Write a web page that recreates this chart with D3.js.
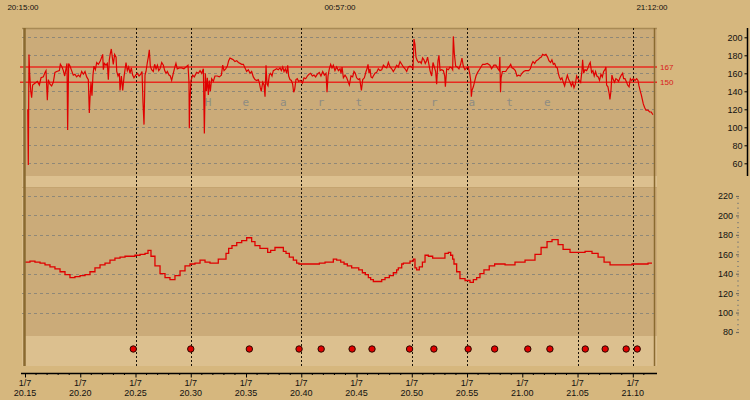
<!DOCTYPE html>
<html><head><meta charset="utf-8">
<script src="https://cdn.jsdelivr.net/npm/d3@7"></script>
<style>body{margin:0;background:#d6b77e;} svg{display:block;font-family:"Liberation Sans",Arial,sans-serif;}</style>
</head><body><svg id="c" width="750" height="400"></svg>
<script>
// minutes after 20:15 , heart rate (bpm)
const heartRate = [
[0.25,120],[0.30,58],[0.36,181],[0.42,160],[0.52,140],[0.60,133],[0.69,147],[0.90,149],[1.12,151],[1.30,147],[1.45,155],[1.66,156],[1.81,161],[1.90,163],[2.02,130],[2.11,153],[2.26,148],[2.41,146],[2.56,150],[2.71,161],[2.87,162],[3.11,163],[3.20,170],[3.35,167],[3.47,163],[3.59,157],[3.71,165],[3.80,171],[3.86,97],[3.95,171],[4.07,168],[4.22,163],[4.37,158],[4.52,159],[4.67,156],[4.83,158],[4.98,156],[5.13,162],[5.28,159],[5.43,162],[5.58,156],[5.73,153],[5.82,116],[5.88,132],[5.97,150],[6.06,135],[6.15,158],[6.24,168],[6.37,164],[6.49,172],[6.64,170],[6.79,173],[6.94,178],[7.03,181],[7.09,164],[7.18,171],[7.33,169],[7.45,171],[7.54,153],[7.63,175],[7.72,182],[7.81,187],[7.90,178],[7.99,170],[8.11,181],[8.24,178],[8.30,162],[8.42,157],[8.54,160],[8.60,141],[8.72,157],[8.84,141],[8.96,156],[9.14,172],[9.26,163],[9.38,167],[9.50,160],[9.62,166],[9.74,158],[9.86,155],[10.02,158],[10.17,160],[10.32,157],[10.47,159],[10.59,162],[10.68,127],[10.77,103],[10.86,158],[10.95,162],[11.07,172],[11.16,178],[11.25,186],[11.34,168],[11.46,164],[11.61,162],[11.73,170],[11.86,165],[11.98,169],[12.10,163],[12.22,165],[12.37,172],[12.52,169],[12.64,163],[12.76,160],[12.88,162],[13.03,158],[13.15,157],[13.27,152],[13.42,160],[13.54,166],[13.66,171],[13.78,165],[13.96,166],[14.17,166],[14.38,165],[14.57,167],[14.75,169],[14.84,150],[14.87,99],[14.92,128],[15.02,152],[15.17,158],[15.32,156],[15.53,161],[15.69,160],[15.84,163],[15.99,160],[16.14,165],[16.23,93],[16.32,160],[16.41,140],[16.50,155],[16.59,136],[16.68,152],[16.77,140],[16.89,154],[17.04,151],[17.19,157],[17.40,157],[17.58,156],[17.77,158],[17.89,169],[18.01,163],[18.16,165],[18.31,168],[18.43,174],[18.55,177],[18.70,176],[18.85,175],[19.00,173],[19.16,174],[19.31,172],[19.46,171],[19.61,170],[19.76,170],[19.91,166],[20.06,162],[20.21,164],[20.36,160],[20.51,162],[20.66,156],[20.81,153],[20.96,152],[21.11,153],[21.20,150],[21.29,144],[21.38,140],[21.51,150],[21.63,147],[21.72,134],[21.81,169],[21.90,148],[21.99,146],[22.11,158],[22.23,160],[22.35,157],[22.47,163],[22.62,164],[22.77,165],[22.92,164],[23.08,166],[23.20,163],[23.32,167],[23.44,162],[23.56,165],[23.68,160],[23.77,169],[23.86,157],[23.98,153],[24.10,152],[24.22,148],[24.31,139],[24.40,142],[24.52,153],[24.64,154],[24.76,151],[24.94,152],[25.10,149],[25.25,155],[25.40,154],[25.55,157],[25.70,159],[25.85,160],[26.00,157],[26.15,158],[26.30,156],[26.45,159],[26.63,161],[26.78,157],[26.94,162],[27.09,158],[27.24,160],[27.33,139],[27.42,157],[27.54,165],[27.66,170],[27.78,166],[27.90,169],[28.05,163],[28.20,167],[28.36,163],[28.51,165],[28.60,160],[28.69,167],[28.81,155],[28.96,158],[29.11,155],[29.26,150],[29.35,147],[29.50,157],[29.65,156],[29.77,162],[29.89,160],[30.01,155],[30.16,153],[30.29,154],[30.38,146],[30.44,141],[30.56,153],[30.71,155],[30.86,162],[30.95,165],[31.04,170],[31.13,160],[31.22,165],[31.31,156],[31.43,155],[31.52,157],[31.67,160],[31.82,161],[31.97,165],[32.12,163],[32.28,164],[32.43,169],[32.58,167],[32.73,166],[32.88,172],[33.03,167],[33.18,165],[33.33,162],[33.48,165],[33.63,169],[33.78,167],[33.94,173],[34.09,170],[34.24,167],[34.39,165],[34.54,162],[34.69,167],[34.84,168],[34.99,167],[35.11,165],[35.20,198],[35.29,192],[35.38,178],[35.50,174],[35.62,172],[35.74,173],[35.86,171],[35.98,177],[36.10,175],[36.22,171],[36.34,174],[36.43,178],[36.52,172],[36.65,163],[36.80,157],[36.92,172],[37.04,167],[37.16,162],[37.25,148],[37.37,174],[37.46,180],[37.56,163],[37.71,164],[37.86,163],[37.98,157],[38.04,145],[38.16,165],[38.31,164],[38.46,167],[38.61,166],[38.70,164],[38.76,201],[38.85,182],[38.97,168],[39.12,167],[39.27,165],[39.42,170],[39.54,177],[39.66,168],[39.81,164],[39.96,166],[40.11,167],[40.24,160],[40.33,152],[40.39,134],[40.45,141],[40.57,145],[40.69,151],[40.81,157],[40.96,161],[41.11,164],[41.26,167],[41.41,170],[41.62,170],[41.83,171],[42.07,169],[42.22,165],[42.43,169],[42.61,169],[42.79,165],[42.91,163],[42.97,178],[43.03,139],[43.08,155],[43.20,162],[43.35,162],[43.50,162],[43.65,165],[43.80,167],[43.95,170],[44.07,166],[44.22,165],[44.37,163],[44.52,157],[44.67,158],[44.82,157],[44.97,160],[45.12,162],[45.28,163],[45.43,163],[45.58,163],[45.73,165],[45.85,170],[45.97,173],[46.12,171],[46.27,174],[46.42,175],[46.57,177],[46.72,178],[46.84,181],[46.99,180],[47.14,181],[47.29,178],[47.41,174],[47.56,172],[47.68,175],[47.81,170],[47.93,171],[48.05,167],[48.17,166],[48.26,160],[48.35,156],[48.47,153],[48.59,155],[48.71,150],[48.83,146],[48.95,152],[49.08,158],[49.20,153],[49.32,150],[49.44,146],[49.56,150],[49.68,144],[49.80,148],[49.92,157],[50.04,154],[50.16,152],[50.28,150],[50.40,163],[50.46,175],[50.55,160],[50.67,164],[50.82,163],[50.94,166],[51.06,170],[51.15,172],[51.27,161],[51.39,163],[51.51,157],[51.63,162],[51.75,157],[51.87,156],[51.99,152],[52.12,159],[52.24,156],[52.36,162],[52.48,164],[52.57,167],[52.63,147],[52.75,145],[52.87,137],[52.93,131],[53.02,140],[53.11,158],[53.23,153],[53.35,150],[53.47,154],[53.59,153],[53.71,151],[53.84,155],[53.96,158],[54.08,160],[54.17,154],[54.29,154],[54.41,151],[54.53,147],[54.66,145],[54.78,154],[54.90,152],[55.05,154],[55.20,152],[55.35,154],[55.47,152],[55.56,146],[55.68,140],[55.77,136],[55.86,131],[55.95,126],[56.07,122],[56.19,119],[56.37,119],[56.52,117],[56.67,117],[56.82,114]
];
// minutes after 20:15 , lower panel value
const pressure = [
[0,152],[0.45,153],[0.9,152],[1.36,151],[1.81,149],[2.26,147],[2.71,145],[3.17,142],[3.62,139],[4.07,136],[4.52,137],[4.98,138],[5.43,139],[5.88,142],[6.33,146],[6.79,149],[7.24,151],[7.69,154],[8.14,156],[8.60,157],[9.05,158],[9.50,158],[9.95,159],[10.41,160],[10.86,161],[11.13,164],[11.40,158],[11.76,148],[12.22,140],[12.67,136],[13.12,134],[13.57,138],[14.03,143],[14.48,148],[14.93,150],[15.38,151],[15.84,154],[15.99,154],[16.29,152],[16.74,151],[17.19,151],[17.49,155],[17.89,155],[18.19,161],[18.43,166],[18.73,169],[19.16,172],[19.61,174],[20.06,177],[20.51,173],[20.81,169],[21.26,166],[21.72,166],[21.96,162],[22.23,164],[22.62,167],[23.08,167],[23.38,163],[23.62,161],[23.92,157],[24.28,154],[24.58,151],[24.79,150],[25.79,150],[26.24,150],[26.64,151],[27.15,152],[27.60,152],[27.90,155],[28.20,154],[28.57,152],[28.87,150],[29.17,148],[29.56,146],[29.95,146],[30.20,144],[30.53,141],[30.80,139],[31.07,136],[31.28,134],[31.52,132],[31.98,132],[32.28,134],[32.58,136],[32.97,138],[33.33,141],[33.63,144],[33.78,146],[34.09,150],[34.24,151],[34.84,153],[35.14,155],[35.29,146],[35.44,144],[35.68,147],[35.96,152],[36.20,159],[36.50,158],[36.89,156],[38.00,161],[38.31,162],[38.52,159],[38.70,155],[38.82,150],[39.06,142],[39.36,135],[39.82,133],[40.27,131],[40.57,134],[40.87,136],[41.17,140],[41.53,144],[42.01,148],[42.50,150],[42.95,150],[43.44,149],[44.34,152],[45.25,154],[46.15,160],[46.70,167],[47.24,173],[47.69,175],[48.24,170],[48.69,165],[49.32,162],[50.05,162],[50.68,163],[51.31,161],[51.86,157],[52.40,152],[52.94,149],[53.67,149],[54.30,149],[54.93,150],[55.66,150],[56.38,151],[56.74,151]
];
const eventMinutes = [9.8,15.0,20.3,24.8,26.8,29.6,31.4,34.8,37.0,40.1,42.5,45.5,47.5,50.7,52.5,54.4,55.4];
const markerLineMinutes = [10,15,25,35,40,50,55];
const hrThresholds = [167,150];
const hrTicks = [60,80,100,120,140,160,180,200];
const bpTicks = [80,100,120,140,160,180,200,220];
const xTickMinutes = [0,5,10,15,20,25,30,35,40,45,50,55];
const xDateLabel = "1/7";
const headerLabels = ["20:15:00","00:57:00","21:12:00"];
const panelTitle = "Heart rate";

const svg = d3.select("#c");
const W=750,H=400;
const x = d3.scaleLinear().domain([0,57]).range([25,654.9]);
const yTop = d3.scaleLinear().domain([60,200]).range([163.3,37.3]);
const yBot = d3.scaleLinear().domain([80,220]).range([332,196]);
const PL=22, PR=657;

const cPanel="#cbab79", cBand="#dcc08f", cBrown="#8a6a30";
svg.append("rect").attr("width",W).attr("height",H).attr("fill","#d6b77e");
svg.append("rect").attr("x",PL).attr("y",28).attr("width",PR-PL).attr("height",148).attr("fill",cPanel);
svg.append("rect").attr("x",PL).attr("y",176).attr("width",PR-PL).attr("height",11).attr("fill",cBand);
svg.append("rect").attr("x",PL).attr("y",187).attr("width",PR-PL).attr("height",149).attr("fill",cPanel);
svg.append("rect").attr("x",PL).attr("y",336).attr("width",PR-PL).attr("height",30).attr("fill",cBand);
svg.append("rect").attr("x",PL).attr("y",28).attr("width",2).attr("height",338).attr("fill","#dcc08f");
svg.append("line").attr("x1",PL).attr("x2",PR).attr("y1",28.5).attr("y2",28.5).attr("stroke","#a88a56").attr("stroke-width",1.5);
svg.append("line").attr("x1",PL).attr("x2",PR).attr("y1",187.5).attr("y2",187.5).attr("stroke","#c4a470").attr("stroke-width",1);

// gridlines
const gridCol="#8f8878";
svg.append("g").selectAll("line").data(hrTicks).join("line")
  .attr("x1",PL).attr("x2",PR).attr("y1",d=>Math.round(yTop(d))+0.5).attr("y2",d=>Math.round(yTop(d))+0.5)
  .attr("stroke",gridCol).attr("stroke-dasharray","3,3");
svg.append("g").selectAll("line").data(bpTicks.filter(d=>d!==160 && d!==80)).join("line")
  .attr("x1",PL).attr("x2",PR).attr("y1",d=>Math.round(yBot(d))+0.5).attr("y2",d=>Math.round(yBot(d))+0.5)
  .attr("stroke",gridCol).attr("stroke-dasharray","3,3");

// title letters
const title = svg.append("text").attr("y",106).attr("fill","#8e8c82").attr("font-size",11).attr("font-family","DejaVu Sans Mono, monospace");
title.selectAll("tspan").data(panelTitle.split("")).join("tspan")
  .attr("x",(d,i)=>208+i*37.7).attr("text-anchor","middle").text(d=>d);

// thresholds
hrThresholds.forEach(t=>{
  svg.append("line").attr("x1",20).attr("x2",PR).attr("y1",yTop(t)).attr("y2",yTop(t)).attr("stroke","#e82a20").attr("stroke-width",1.5);
  svg.append("text").attr("x",660).attr("y",yTop(t)+3).attr("fill","#d8201a").attr("font-size",8).text(t);
});

// dotted event lines
svg.append("g").selectAll("line").data(markerLineMinutes).join("line")
  .attr("x1",d=>Math.round(x(d))+0.5).attr("x2",d=>Math.round(x(d))+0.5).attr("y1",28).attr("y2",366)
  .attr("stroke","#1a1208").attr("stroke-dasharray","2,2");

// data lines
const lineTop = d3.line().x(d=>x(d[0])).y(d=>yTop(d[1]));
svg.append("path").attr("d",lineTop(heartRate)).attr("fill","none").attr("stroke","#e00000").attr("stroke-width",1.2);
const lineBot = d3.line().x(d=>x(d[0])).y(d=>yBot(d[1])).curve(d3.curveStepAfter);
svg.append("path").attr("d",lineBot(pressure)).attr("fill","none").attr("stroke","#e00000").attr("stroke-width",1.3);

// markers
svg.append("g").selectAll("circle").data(eventMinutes).join("circle")
  .attr("cx",d=>x(d)).attr("cy",349).attr("r",3.2).attr("fill","#e00000").attr("stroke","#2a0a00").attr("stroke-width",1);

// frame lines
svg.append("line").attr("x1",24.5).attr("x2",24.5).attr("y1",28).attr("y2",366).attr("stroke",cBrown).attr("stroke-width",2.5);
svg.append("line").attr("x1",654.5).attr("x2",654.5).attr("y1",28).attr("y2",366).attr("stroke",cBrown).attr("stroke-width",1.5);

// right axis top
const aTop = svg.append("g").attr("transform","translate(747.5,0)")
  .call(d3.axisLeft(yTop).tickValues(hrTicks).tickSize(3).tickPadding(2));
aTop.select(".domain").attr("d","M0,28V176").attr("stroke","#000").attr("stroke-width",1.5);
aTop.selectAll("text").attr("font-size",9).attr("font-family","Liberation Sans, Arial").attr("fill","#111");

// right axis bottom (dashes)
const aBot = svg.append("g").attr("transform","translate(736,0)")
  .call(d3.axisRight(yBot).tickValues(bpTicks).tickSize(3).tickPadding(-13));
aBot.select(".domain").remove();
aBot.selectAll("line").attr("stroke","#6f6a5e").attr("stroke-width",1.2);
aBot.selectAll("text").attr("text-anchor","end").attr("x",-3).attr("font-size",9).attr("font-family","Liberation Sans, Arial").attr("fill","#111");
const minor = d3.range(82.5,220,5).filter(v=>v%20!==0);
svg.append("g").selectAll("line").data(minor).join("line")
  .attr("x1",737).attr("x2",739).attr("y1",d=>yBot(d)).attr("y2",d=>yBot(d)).attr("stroke","#8a8578");

// x axis
const fmt = m => { const t=20*60+15+m; return String(Math.floor(t/60))+"."+String(t%60).padStart(2,"0"); };
const ax = svg.append("g").attr("transform","translate(0,373.5)")
  .call(d3.axisBottom(x).tickValues(xTickMinutes).tickSize(4).tickFormat(""));
ax.select(".domain").attr("d","M21,0H657").attr("stroke","#000").attr("stroke-width",1.5);
svg.append("g").selectAll("line").data(d3.range(0,57,1).filter(m=>m%5!==0)).join("line")
  .attr("x1",d=>x(d)).attr("x2",d=>x(d)).attr("y1",373).attr("y2",375).attr("stroke","#000");
const xl = svg.append("g").selectAll("text").data(xTickMinutes).join("text")
  .attr("x",d=>x(d)).attr("text-anchor","middle").attr("font-size",9).attr("fill","#111");
xl.append("tspan").attr("x",d=>x(d)).attr("y",385.5).text(xDateLabel);
xl.append("tspan").attr("x",d=>x(d)).attr("y",396).text(d=>fmt(d));

// header
svg.append("g").selectAll("text").data(headerLabels).join("text")
  .attr("x",(d,i)=>[23,340,652][i]).attr("y",10).attr("text-anchor","middle").attr("font-size",8).attr("fill","#111").text(d=>d);
</script></body></html>
